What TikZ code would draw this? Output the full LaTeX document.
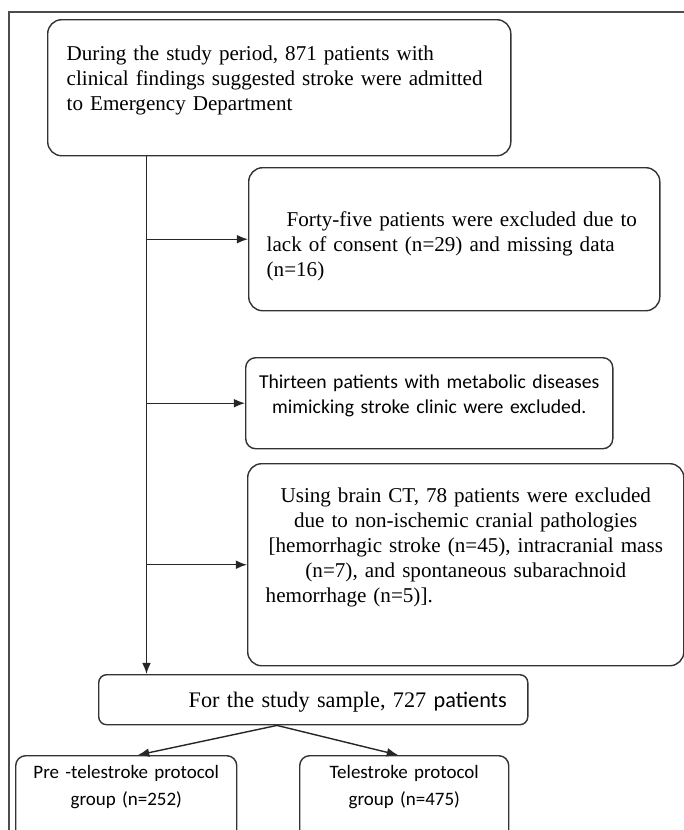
\documentclass[tikz,border=0pt]{standalone}
\usepackage{fontspec}
\setmainfont{Liberation Serif}
\newfontfamily\calfont{Carlito}
\usetikzlibrary{arrows.meta}

\begin{document}
\begin{tikzpicture}[x=0.025cm,y=-0.025cm,line width=1pt,-]
            \tikzstyle{box}=[rectangle,draw=black!80,rounded corners=0.35cm,inner ysep=0pt,anchor=north west,font=\fontsize{15}{17.8}\selectfont]
            \tikzstyle{sbox}=[box,rounded corners=0.25cm,font=\calfont\fontsize{14}{17.8}\selectfont]
            \tikzstyle{arr}=[-{Latex[length=2.8mm,width=2.2mm]},black!85]

                \useasboundingbox (0,0) rectangle (684,830);
                \clip (0,0) rectangle (684,830);
                \draw[black!70,line width=0.8pt] (9,830) -- (9,12) -- (684,12);

                \node[box,inner xsep=0.475cm,text width=10.625cm,text height=1.025cm,text depth=2.375cm,align=left] (Start) at (47,19)
                    {During the study period, 871 patients with\\clinical findings suggested stroke were admitted\\to Emergency Department};
                \node[box,inner xsep=0.45cm,text width=9.375cm,text height=1.475cm,text depth=2.1cm,align=left] (Ex-1) at (248,167)
                    {\hspace*{0.5cm}Forty-five patients were excluded due to\\lack of consent (n=29) and missing data\\(n=16)};
                \node[sbox,inner xsep=0.3cm,text width=8.575cm,text height=0.775cm,text depth=1.5cm,align=center] (Ex-2) at (245,357)
                    {Thirteen patients with metabolic diseases\\mimicking stroke clinic were excluded.};
                \node[box,inner xsep=0.45cm,text width=10cm,text height=0.975cm,text depth=4.075cm,align=center] (Ex-3) at (247,463)
                    {Using brain CT, 78 patients were excluded\\due to non-ischemic cranial pathologies\\{[}hemorrhagic stroke (n=45), intracranial mass\\(n=7), and spontaneous subarachnoid\\\makebox[\linewidth][l]{hemorrhage (n=5)].}};
                \node[box,rounded corners=0.2cm,inner xsep=0.3cm,text width=10.125cm,text height=0.825cm,text depth=0.425cm,align=left,font=\fontsize{15.8}{17.8}\selectfont] (Sample) at (98,674)
                    {\hspace*{1.95cm}For the study sample, 727 {\calfont patients}};
                \node[sbox,inner xsep=0.3cm,text width=4.925cm,text height=0.575cm,text depth=1.8cm,align=center,font=\calfont\fontsize{13.5}{19.1}\selectfont] (Grp-1) at (15,755)
                    {Pre -telestroke protocol\\group (n=252)};
                \node[sbox,inner xsep=0.3cm,text width=4.625cm,text height=0.575cm,text depth=1.8cm,align=center,font=\calfont\fontsize{13.5}{19.1}\selectfont] (Grp-2) at (299,755)
                    {Telestroke protocol\\group (n=475)};

                \coordinate (trunk) at (146.5,0);
                \coordinate (split) at (277,0);
                \coordinate (tip-1) at (138,0);
                \coordinate (tip-2) at (398,0);

                \draw[arr] (Start.south -| trunk) -- (Sample.north -| trunk);
                \foreach \to in {1,2,3}
                    \draw[arr] (trunk |- Ex-\to.west) -- (Ex-\to.west);
                \draw[arr] (Sample.south -| split) -- (Grp-1.north -| tip-1);
                \draw[arr] (Sample.south -| split) -- (Grp-2.north -| tip-2);
        \end{tikzpicture}
\end{document}
